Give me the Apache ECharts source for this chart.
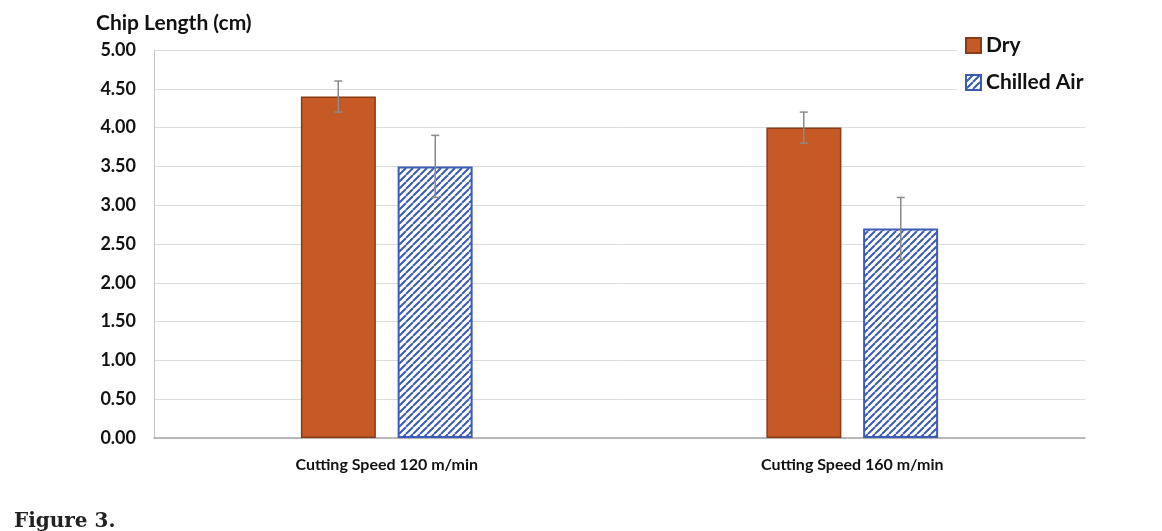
<!DOCTYPE html>
<html>
<head>
<meta charset="utf-8">
<script src="https://cdn.jsdelivr.net/npm/echarts@6/dist/echarts.min.js"></script>
<style>
  html, body { margin: 0; padding: 0; background: #fff; }
  #chart { width: 1162px; height: 531px; }
</style>
</head>
<body>
<div id="chart"></div>
<script>
// Chip length by cutting speed and cooling condition
const categories = ['Cutting Speed 120 m/min', 'Cutting Speed 160 m/min'];
const seriesNames = ['Dry', 'Chilled Air'];
const dryValues = [4.4, 4.0];
const dryErrors = [0.2, 0.2];
const chilledValues = [3.5, 2.7];
const chilledErrors = [0.4, 0.4];
const yTicks = [0, 0.5, 1, 1.5, 2, 2.5, 3, 3.5, 4, 4.5, 5];

const FONT = 'Lato, "Open Sans", sans-serif';

// diagonal hatch fill for the chilled-air bars
function hatchPattern() {
  const c = document.createElement('canvas');
  const s = 7;
  c.width = s; c.height = s;
  const g = c.getContext('2d');
  g.fillStyle = '#ffffff';
  g.fillRect(0, 0, s, s);
  g.strokeStyle = '#3b5cb5';
  g.lineWidth = 2;
  g.beginPath();
  for (let k = -1; k <= 1; k++) {
    g.moveTo(k * s, s);
    g.lineTo(k * s + s, 0);
  }
  g.stroke();
  return c;
}
const hatch = hatchPattern();

// error-bar renderer: vertical whisker with short caps
function errorBar(seriesIdx, values, errors) {
  return function (params, api) {
    const i = params.dataIndex;
    const v = values[i], e = errors[i];
    const top = api.coord([i, v + e]);
    const bot = api.coord([i, v - e]);
    const bw = 75, gap = 22;
    const off = (seriesIdx === 0 ? -1 : 1) * (bw + gap) / 2;
    const x = top[0] + off;
    const cap = 4;
    const style = { stroke: '#8a8a8a', lineWidth: 1.5 };
    return {
      type: 'group',
      children: [
        { type: 'line', shape: { x1: x, y1: top[1], x2: x, y2: bot[1] }, style },
        { type: 'line', shape: { x1: x - cap, y1: top[1], x2: x + cap, y2: top[1] }, style },
        { type: 'line', shape: { x1: x - cap, y1: bot[1], x2: x + cap, y2: bot[1] }, style }
      ]
    };
  };
}

const chart = echarts.init(document.getElementById('chart'));
chart.setOption({
  backgroundColor: '#ffffff',
  animation: false,
  grid: { left: 154, right: 77, top: 50, bottom: 93, containLabel: false },
  title: {
    text: 'Chip Length (cm)',
    left: 91, top: 8,
    textStyle: { fontFamily: FONT, fontWeight: 'bold', fontSize: 21, color: '#111' }
  },
  legend: {
    data: seriesNames,
    orient: 'vertical',
    left: 957, top: 31,
    icon: 'rect',
    itemWidth: 15, itemHeight: 15, itemGap: 16,
    padding: [4, 8, 4, 8],
    backgroundColor: '#ffffff',
    textStyle: { fontFamily: FONT, fontWeight: 'bold', fontSize: 21, color: '#111' }
  },
  xAxis: {
    type: 'category',
    data: categories,
    axisTick: { show: false },
    axisLine: { lineStyle: { color: '#a6a6a6', width: 1.5 } },
    axisLabel: { fontFamily: FONT, fontWeight: 'bold', fontSize: 16, color: '#111', margin: 19 }
  },
  yAxis: {
    type: 'value',
    min: 0, max: 5, interval: 0.5,
    axisLine: { show: true, lineStyle: { color: '#c8c8c8' } },
    axisTick: { show: false },
    splitLine: { lineStyle: { color: '#dcdcdc', width: 1 } },
    axisLabel: {
      fontFamily: FONT, fontWeight: 'bold', fontSize: 18, color: '#111', margin: 18,
      formatter: v => (yTicks.includes(v) ? v.toFixed(2) : '')
    }
  },
  series: [
    {
      name: seriesNames[0], type: 'bar', data: dryValues,
      barWidth: 75, barGap: '29%',
      itemStyle: { color: '#c55a27', borderColor: '#8a3b17', borderWidth: 1.5 }
    },
    {
      name: seriesNames[1], type: 'bar', data: chilledValues,
      barWidth: 75, barGap: '29%',
      itemStyle: { color: { image: hatch, repeat: 'repeat' }, borderColor: '#3b5cb5', borderWidth: 2 }
    },
    {
      type: 'custom', data: dryValues.map((v, i) => [i, v]), z: 10,
      renderItem: errorBar(0, dryValues, dryErrors), silent: true, tooltip: { show: false }
    },
    {
      type: 'custom', data: chilledValues.map((v, i) => [i, v]), z: 10,
      renderItem: errorBar(1, chilledValues, chilledErrors), silent: true, tooltip: { show: false }
    }
  ],
  graphic: [
    {
      type: 'text', left: 14, top: 512,
      style: { text: 'Figure 3.', fontFamily: '"DejaVu Serif", "Liberation Serif", serif', fontWeight: 'bold', fontSize: 20, fill: '#222' }
    }
  ]
});
</script>
</body>
</html>
